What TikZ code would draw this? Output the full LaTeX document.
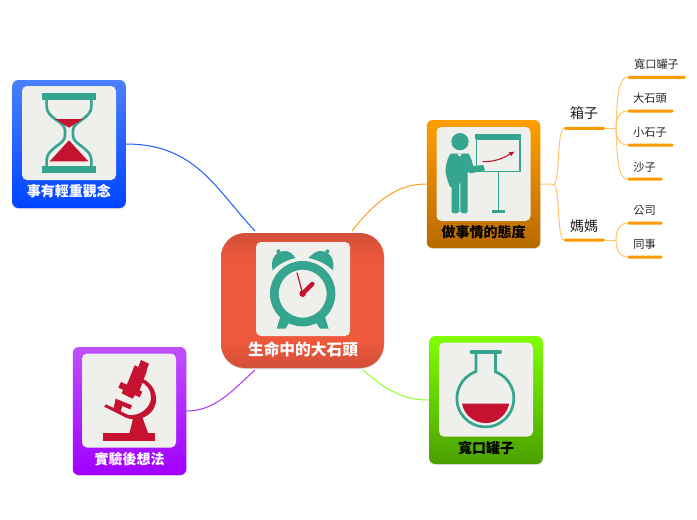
\documentclass[tikz,border=0pt]{standalone}
\usepackage{fontspec}
\setmainfont{Noto Sans CJK TC}
\usetikzlibrary{shadows}
\definecolor{teal1}{HTML}{35A58F}
\definecolor{crim}{HTML}{C41230}
\definecolor{panel}{HTML}{EFEFEB}
\definecolor{mainedge}{HTML}{D2503A}
\definecolor{mainmid}{HTML}{EE583B}
\definecolor{barc}{HTML}{FF9900}
\definecolor{twig}{HTML}{FFC468}
\definecolor{blueT}{HTML}{4A80FF}
\definecolor{blueB}{HTML}{0044FF}
\definecolor{orangeT}{HTML}{FF9E00}
\definecolor{orangeB}{HTML}{B86A00}
\definecolor{greenT}{HTML}{80FF00}
\definecolor{greenB}{HTML}{4AA000}
\definecolor{purpleT}{HTML}{C050FF}
\definecolor{purpleB}{HTML}{A000FF}
\definecolor{blueL}{HTML}{1F5CFF}
\definecolor{orangeL}{HTML}{FFA020}
\definecolor{greenL}{HTML}{90FF30}
\definecolor{purpleL}{HTML}{B030FF}
\pgfdeclareverticalshading{mainshade}{100bp}{color(0bp)=(mainedge); color(25bp)=(mainedge); color(35bp)=(mainmid); color(65bp)=(mainmid); color(75bp)=(mainedge); color(100bp)=(mainedge)}
\tikzset{
  box/.style={rectangle,rounded corners=6pt,inner sep=0pt,minimum width=113.5pt,minimum height=128pt,
     drop shadow={opacity=.22,shadow xshift=0pt,shadow yshift=-1pt}},
  plate/.style={rectangle,rounded corners=5pt,fill=panel,inner sep=0pt,minimum width=94pt,minimum height=94pt},
  title/.style={inner sep=0pt,font=\fontsize{14}{16}\selectfont\bfseries},
  leaf/.style={inner sep=0pt,text=black!85,font=\fontsize{11.2}{13}\selectfont},
  branch/.style={inner sep=0pt,text=black!90,font=\fontsize{14}{16}\selectfont},
  bar/.style={rectangle,fill=barc,rounded corners=1.2pt,inner sep=0pt,minimum height=3pt},
  link/.style={line width=1pt},
  twigline/.style={draw=twig,line width=1pt},
  icon/.style={shift={(#1)},x=.33333pt,y=-.33333pt},
}
\begin{document}
\begin{tikzpicture}[x=1pt,y=-1pt]
\useasboundingbox (0,0) rectangle (697,520);

% boxes
\node[box,minimum width=163pt,minimum height=135pt,rounded corners=24pt,shading=mainshade,drop shadow={opacity=.15,shadow xshift=0pt,shadow yshift=-1pt}] (central) at (302.5,300.5) {};
\node[box,top color=blueT,bottom color=blueB] (hour) at (69,144) {};
\node[box,top color=orangeT,bottom color=orangeB] (attitude) at (483.5,184) {};
\node[box,top color=greenT,bottom color=greenB] (jar) at (486,400) {};
\node[box,top color=purpleT,bottom color=purpleB] (idea) at (129.5,411) {};

% plates
\node[plate] (pc) at (303,289) {};
\node[plate] (ph) at (69,133) {};
\node[plate] (pa) at (483.5,174) {};
\node[plate] (pj) at (486,389.5) {};
\node[plate] (pi) at (129,400.5) {};

% anchors on the central box
\coordinate (cnw) at (255,231);
\coordinate (cne) at (352,231);
\coordinate (csw) at (255,370);
\coordinate (cse) at (363,370);

% main connectors
\draw[link,draw=blueL] (hour.east) .. controls (195,144) and (215,188) .. (cnw);
\draw[link,draw=orangeL] (attitude.west) .. controls (402,184) and (380,195) .. (cne);
\draw[link,draw=greenL] (jar.west) .. controls (405,400) and (388,392) .. (cse);
\draw[link,draw=purpleL] (idea.east) .. controls (215,411) and (232,391) .. (csw);

% titles
\node[title,text=white,font=\fontsize{15.7}{18}\selectfont\bfseries] (tc) at (303,349) {生命中的大石頭};
\node[title,text=white] (th) at (69,191) {事有輕重觀念};
\node[title,text=black] (ta) at (483.5,232) {做事情的態度};
\node[title,text=black] (tj) at (486,448) {寬口罐子};
\node[title,text=white] (ti) at (129.5,459) {實驗後想法};

% tree bars
\node[bar,minimum width=41pt] (b1) at (584.5,128.3) {};
\node[bar,minimum width=41pt] (b2) at (584.5,240) {};
\node[bar,minimum width=58pt] (l1) at (656.5,77.3) {};
\node[bar,minimum width=46pt] (l2) at (650.5,111) {};
\node[bar,minimum width=46pt] (l3) at (650.5,145) {};
\node[bar,minimum width=35pt] (l4) at (645,179) {};
\node[bar,minimum width=35pt] (l5) at (645,223) {};
\node[bar,minimum width=35pt] (l6) at (645,257) {};
\coordinate (fork) at (554,184.3);
\coordinate (f1) at (616,128.3);
\coordinate (f2) at (616,240);

% tree connectors
\draw[twigline] (attitude.east) -- (fork);
\draw[twigline] (fork) .. controls (560,180) and (557,130) .. (b1.west);
\draw[twigline] (fork) .. controls (560,189) and (557,238) .. (b2.west);
\draw[twigline] (b1.east) -- (f1);
\draw[twigline] (b2.east) -- (f2);
\draw[twigline] (f1) .. controls (617,100) and (618,77.3) .. (l1.west);
\draw[twigline] (f1) .. controls (616,118) and (620,111) .. (l2.west);
\draw[twigline] (f1) .. controls (616,138) and (620,145) .. (l3.west);
\draw[twigline] (f1) .. controls (617,156) and (618,179) .. (l4.west);
\draw[twigline] (f2) .. controls (616,231) and (620,223) .. (l5.west);
\draw[twigline] (f2) .. controls (616,249) and (620,257) .. (l6.west);

% tree labels
\node[branch] (n1) at (584,113.5) {箱子};
\node[branch] (n2) at (584,226) {媽媽};
\node[leaf] (t1) at (656.5,64.5) {寬口罐子};
\node[leaf] (t2) at (650,98.5) {大石頭};
\node[leaf] (t3) at (650,132.5) {小石子};
\node[leaf] (t4) at (644.5,167) {沙子};
\node[leaf] (t5) at (644.5,210.5) {公司};
\node[leaf] (t6) at (644.5,244.5) {同事};

% clock icon
\begin{scope}[icon={220,225}]
  \draw[teal1,line width=8.7pt] (248,206) circle[radius=85];
  \fill[teal1] (158,136) .. controls (150,105) and (165,78) .. (195,78) .. controls (207,78) and (218,86) .. (226,99) .. controls (200,105) and (175,118) .. (158,136) -- cycle;
  \fill[teal1] (338,136) .. controls (346,105) and (331,78) .. (301,78) .. controls (289,78) and (278,86) .. (265,99) .. controls (296,105) and (321,118) .. (338,136) -- cycle;
  \fill[teal1] (175,79) circle[radius=6];
  \fill[teal1] (322,79) circle[radius=6];
  \fill[teal1] (183,270) -- (170,311) -- (196,311) -- (208,292) -- cycle;
  \fill[teal1] (313,270) -- (326,311) -- (300,311) -- (288,292) -- cycle;
  \draw[crim,line width=1.2pt] (248,206) -- (231,143);
  \draw[crim,line width=4.4pt,line cap=round] (248,206) -- (277,177);
  \fill[crim] (248,206) circle[radius=10];
\end{scope}

% hourglass icon
\begin{scope}[icon={5,75}]
  \fill[teal1] (110,55) rectangle (274,75);
  \fill[teal1] (110,274) rectangle (274,294);
  \draw[teal1,line width=2.6pt] (125,75) -- (125,95) .. controls (125,130) and (180,140) .. (180,165) -- (180,183) .. controls (180,208) and (125,220) .. (125,255) -- (125,274);
  \draw[teal1,line width=2.6pt] (259,75) -- (259,95) .. controls (259,130) and (204,140) .. (204,165) -- (204,183) .. controls (204,208) and (259,220) .. (259,255) -- (259,274);
  \fill[crim] (150,132) -- (234,132) -- (192,158) -- cycle;
  \fill[crim] (134,259) -- (250,259) -- (192,196) -- cycle;
\end{scope}

% presenter icon
\begin{scope}[icon={420,115}]
  \fill[teal1] (120,80) circle[radius=26];
  \fill[teal1] (92,116) -- (146,116) .. controls (152,125) and (156,140) .. (160,153) -- (190,150) -- (195,166) -- (152,175) -- (143,170) -- (143,290) .. controls (143,297) and (124,297) .. (121,290) -- (121,205) -- (118,205) -- (118,290) .. controls (114,297) and (95,297) .. (95,290) -- (95,216) -- (90,216) .. controls (82,195) and (75,175) .. (77,160) .. controls (80,140) and (84,125) .. (92,116) -- cycle;
  \fill[panel] (113,116) -- (125,116) -- (121,124) -- (117,124) -- cycle;
  \fill[teal1] (165,58) rectangle (304,72);
  \draw[teal1,line width=1.1pt] (170,72) rectangle (300,170);
  \draw[teal1,line width=1.6pt] (236,170) -- (236,288);
  \fill[teal1] (216,285) rectangle (255,295);
  \draw[crim,line width=1.1pt] (188,140) .. controls (225,140) and (245,132) .. (272,116);
  \fill[crim] (283,110) -- (266,112) -- (274,123) -- cycle;
\end{scope}

% flask icon
\begin{scope}[icon={420,330}]
  \draw[teal1,line width=2.7pt] (168,66) -- (168,124.6) arc[start angle=250.8,end angle=-70.8,radius=85.5] (226.5,124.6) -- (226.5,66);
  \draw[teal1,line width=4pt,line cap=round] (155,65) -- (240,65);
  \fill[crim] (126,221) arc[start angle=169,end angle=11,radius=72] -- cycle;
\end{scope}

% microscope icon
\begin{scope}[icon={65,340}]
  \fill[crim] (114,280) rectangle (270,302);
  \fill[crim] (193,281) -- (205,232) -- (232,232) -- (250,281) -- cycle;
  \fill[crim] (232,116) .. controls (265,130) and (278,165) .. (272,190) .. controls (266,218) and (240,238) .. (205,238) .. controls (190,238) and (172,228) .. (165,218) .. controls (180,225) and (200,228) .. (215,223) .. controls (240,215) and (258,195) .. (258,172) .. controls (258,150) and (245,132) .. (225,125) -- cycle;
  \fill[crim] (228,60) -- (252,71) -- (244,92) -- (220,80) -- cycle;
  \fill[crim] (209,76) -- (246,92) -- (222,155) -- (184,138) -- cycle;
  \fill[crim] (168,126) -- (232,155) -- (224,172) -- (160,143) -- cycle;
  \fill[crim] (175,148) -- (210,165) -- (203,176) -- (170,160) -- cycle;
  \fill[crim] (118,200) -- (122,193) -- (146,204) -- (152,176) -- (201,196) -- (196,208) -- (172,198) -- (167,214) -- (190,225) -- (186,234) -- cycle;
\end{scope}
\end{tikzpicture}
\end{document}
